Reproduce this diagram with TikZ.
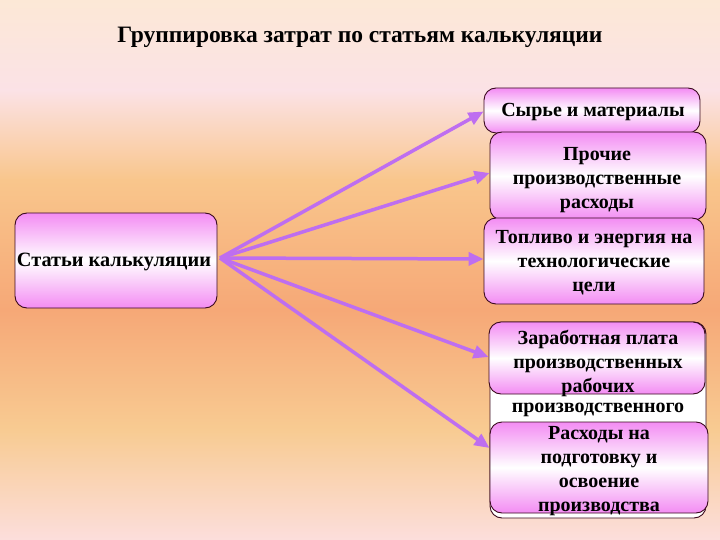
\documentclass[tikz,border=0pt]{standalone}
\usepackage{fontspec}
\setmainfont{Liberation Serif}
\usetikzlibrary{arrows.meta}
\definecolor{bg0}{HTML}{FCE8D6}
\definecolor{bg1}{HTML}{FBE2E6}
\definecolor{bg2}{HTML}{F9C68C}
\definecolor{bg3}{HTML}{F6A877}
\definecolor{bg4}{HTML}{F8CB92}
\definecolor{bg5}{HTML}{FCDEDC}
\definecolor{boxpink}{HTML}{F38CF3}
\definecolor{boxline}{HTML}{3A0A1E}
\definecolor{arrowc}{RGB}{190,110,240}
\tikzset{
  card/.style={draw=boxline, line width=0.9pt, rounded corners=12pt,
    top color=boxpink, bottom color=boxpink, middle color=white,
    inner sep=0pt},
  backcard/.style={draw=boxline, line width=0.9pt, rounded corners=12pt,
    fill=white, inner sep=0pt},
  txt/.style={font=\fontsize{20}{24}\selectfont\bfseries, align=center, inner sep=0pt, text=black},
  arr/.style={draw=arrowc, line width=3.5pt, -{Triangle[length=15pt,width=13pt]}}
}
\begin{document}
\begin{tikzpicture}[x=1pt,y=-1pt]
\useasboundingbox (0,0) rectangle (720,540);
% background
\shade[top color=bg0, bottom color=bg1] (0,0) rectangle (720,90);
\shade[top color=bg1, bottom color=bg2] (0,90) rectangle (720,180);
\shade[top color=bg2, bottom color=bg3] (0,180) rectangle (720,310);
\shade[top color=bg3, bottom color=bg4] (0,310) rectangle (720,430);
\shade[top color=bg4, bottom color=bg5] (0,430) rectangle (720,540);
% title
\node[txt, font=\fontsize{23.5}{26}\selectfont\bfseries] (title) at (360,37) {Группировка затрат по статьям калькуляции};
% left box
\node[card, minimum width=202pt, minimum height=95pt] (left) at (116,260.5) {};
\node[txt, font=\fontsize{20.3}{24}\selectfont\bfseries] (lefttxt) at (114,262) {Статьи калькуляции};
% right boxes
\node[card, minimum width=216pt, minimum height=45pt] (b1) at (592,110.5) {};
\node[txt] (b1t) at (593,112) {Сырье и материалы};
\node[card, minimum width=216pt, minimum height=88pt] (b2) at (598,176) {};
\node[txt] (b2t) at (597,180) {Прочие\\производственные\\расходы};
\node[card, minimum width=220pt, minimum height=86pt] (b3) at (594,261) {};
\node[txt] (b3t) at (594,263) {Топливо и энергия на\\технологические\\цели};
\node[backcard, minimum width=216pt, minimum height=196pt] (back) at (598,420) {};
\node[txt] (backt) at (598,410) {производственного};
\node[card, minimum width=216pt, minimum height=72pt] (b4) at (597,358) {};
\node[txt] (b4t) at (598,363) {Заработная плата\\производственных\\рабочих};
\node[card, minimum width=218pt, minimum height=91pt] (b5) at (599,467.5) {};
\node[txt] (b5t) at (599,471) {Расходы на\\подготовку и\\освоение\\производства};
% arrows
\coordinate (src) at (220,258);
\draw[arr] (src) -- ([yshift=-1pt]b1.west);
\draw[arr] (src) -- ([yshift=3pt]b2.west);
\draw[arr] (src) -- ([yshift=2pt]b3.west);
\draw[arr] (src) -- ([yshift=1pt]b4.west);
\draw[arr] (src) -- ([yshift=19.5pt]b5.west);
\end{tikzpicture}
\end{document}
